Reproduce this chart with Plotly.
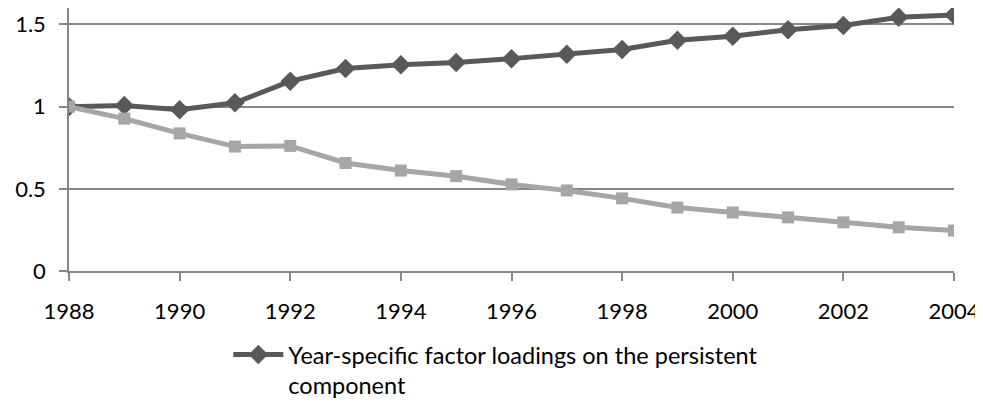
import plotly.graph_objects as go

years = list(range(1988, 2005))
persistent = [1.0, 1.007, 0.981, 1.023, 1.155, 1.232, 1.254, 1.268, 1.292,
              1.318, 1.348, 1.404, 1.428, 1.468, 1.494, 1.544, 1.558]
transitory = [1.0, 0.927, 0.837, 0.757, 0.761, 0.657, 0.611, 0.577, 0.527,
              0.490, 0.442, 0.386, 0.356, 0.326, 0.296, 0.266, 0.246]
legend_label = "Year-specific factor loadings on the persistent<br>component"
x_ticks = list(range(1988, 2005, 2))
y_ticks = [0, 0.5, 1, 1.5]

axis_grey = "#868686"
tick_font = dict(family="Lato", size=22, color="#000000")
legend_font = dict(family="Lato", size=23.5, color="#000000")

fig = go.Figure()
fig.add_trace(go.Scatter(
    x=years, y=persistent, name=legend_label, mode="lines+markers",
    line=dict(color="#595959", width=5),
    marker=dict(symbol="diamond", size=15, color="#595959"),
))
# second series has no legend entry in the original
fig.add_trace(go.Scatter(
    x=years, y=transitory, name="transitory", mode="lines+markers",
    showlegend=False,
    line=dict(color="#a6a6a6", width=5),
    marker=dict(symbol="square", size=12, color="#a6a6a6"),
))

# the page body puts the figure 8px in from the top left corner
fig.update_layout(
    width=975, height=400,
    margin=dict(l=61, r=29, t=0, b=134),
    paper_bgcolor="white", plot_bgcolor="white",
    font=tick_font,
    showlegend=True,
    legend=dict(
        orientation="h", x=0.18, xanchor="left", y=-0.235, yanchor="top",
        valign="top", itemwidth=50, font=legend_font, bgcolor="rgba(0,0,0,0)",
    ),
    xaxis=dict(
        range=[1988, 2004], tickvals=x_ticks, showgrid=False,
        showline=True, linecolor=axis_grey, linewidth=1.5,
        ticks="outside", ticklen=8, tickcolor=axis_grey, tickwidth=1.5,
        ticklabelstandoff=12, zeroline=False, automargin=False,
        tickfont=tick_font,
    ),
    yaxis=dict(
        range=[0, 1.6], tickvals=y_ticks, ticktext=["0", "0.5", "1", "1.5"],
        showgrid=True, gridcolor=axis_grey, gridwidth=1.5,
        showline=True, linecolor=axis_grey, linewidth=1.5,
        ticks="outside", ticklen=8, tickcolor=axis_grey, tickwidth=1.5,
        ticklabelstandoff=9, zeroline=False, automargin=False,
        tickfont=tick_font,
    ),
)

fig.write_html("out.html")
